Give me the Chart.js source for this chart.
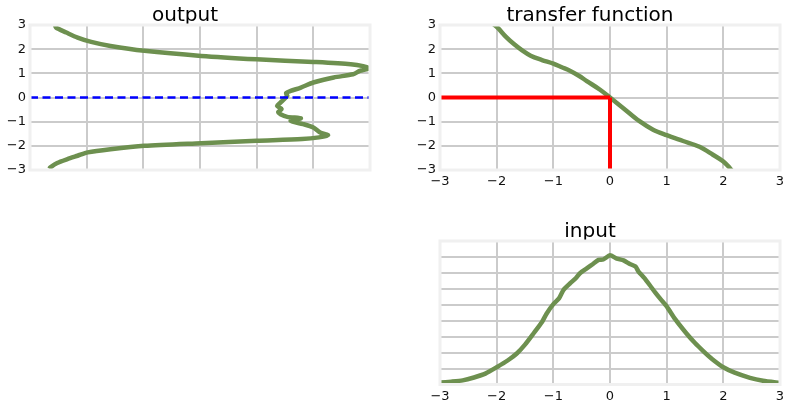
<!DOCTYPE html>
<html>
<head>
<meta charset="utf-8">
<script src="https://cdn.jsdelivr.net/npm/chart.js@4"></script>
<style>
  html, body { margin: 0; padding: 0; background: #fff; }
  body { width: 791px; height: 410px; position: relative; overflow: hidden; }
  .box { position: absolute; }
</style>
</head>
<body>
<div class="box" style="left:0;top:0;width:395px;height:195px"><canvas id="outputChart"></canvas></div>
<div class="box" style="left:400px;top:0;width:391px;height:195px"><canvas id="transferChart"></canvas></div>
<div class="box" style="left:400px;top:216px;width:391px;height:194px"><canvas id="inputChart"></canvas></div>
<script>
// output distribution (density on x, output value on y), traced top to bottom
const outY = [3.02, 2.89, 2.69, 2.48, 2.30, 2.13, 1.93, 1.72, 1.58, 1.47, 1.38, 1.30, 1.21, 1.10, 0.96, 0.83,
  0.62, 0.41, 0.27, 0.18, 0.07, -0.08, -0.21, -0.35, -0.48, -0.60, -0.69, -0.80, -0.86, -0.97, -1.10,
  -1.24, -1.45, -1.56, -1.65, -1.72, -1.79, -1.89, -2.00, -2.14, -2.27, -2.41, -2.55, -2.71, -2.89, -2.95];
const outDensity = [0.022, 0.023, 0.032, 0.042, 0.054, 0.071, 0.101, 0.151, 0.200, 0.250, 0.283, 0.294, 0.299, 0.291,
  0.285, 0.268, 0.250, 0.239, 0.230, 0.226, 0.227, 0.224, 0.221, 0.218, 0.222, 0.219, 0.221, 0.227, 0.239, 0.230, 0.241,
  0.250, 0.256, 0.263, 0.255, 0.240, 0.200, 0.151, 0.101, 0.071, 0.051, 0.042, 0.033, 0.024, 0.018, 0.017];
const zeroLineX = [0, 0.3];
const zeroLineY = [0, 0];

// transfer function
const tfX = [-2.05, -1.98, -1.84, -1.69, -1.55, -1.40, -1.2, -1.0, -0.85, -0.70, -0.55, -0.41, -0.175, 0,
  0.23, 0.52, 0.76, 1.0, 1.29, 1.58, 1.81, 2.0, 2.1, 2.16];
const tfY = [3.02, 2.88, 2.52, 2.2, 1.95, 1.73, 1.55, 1.40, 1.25, 1.1, 0.9, 0.68, 0.32, 0,
  -0.43, -0.98, -1.33, -1.56, -1.8, -2.04, -2.36, -2.65, -2.88, -3.05];
const redHX = [-3, 0];
const redHY = [0, 0];
const redVX = [0, 0];
const redVY = [-3, 0];

// input distribution
const inX = [-3.0, -2.8, -2.6, -2.4, -2.2, -2.0, -1.8, -1.64, -1.5, -1.35, -1.2, -1.12, -1.0, -0.9, -0.82, -0.7, -0.6,
  -0.53, -0.41, -0.3, -0.2, -0.12, 0.0, 0.12, 0.24, 0.35, 0.45, 0.5, 0.6, 0.7, 0.8, 0.9, 1.0, 1.15, 1.35, 1.5, 1.65,
  1.8, 2.0, 2.2, 2.47, 2.7, 3.0];
const inY = [0.006, 0.009, 0.013, 0.022, 0.034, 0.054, 0.076, 0.098, 0.125, 0.160, 0.196, 0.222, 0.252, 0.270, 0.297,
  0.318, 0.334, 0.349, 0.364, 0.378, 0.391, 0.392, 0.405, 0.395, 0.389, 0.378, 0.370, 0.355, 0.335, 0.312, 0.288, 0.266,
  0.245, 0.205, 0.160, 0.130, 0.104, 0.080, 0.054, 0.037, 0.021, 0.012, 0.005];

const pts = (xs, ys) => xs.map((x, i) => ({ x, y: ys[i] }));
const minus = v => String(v).replace('-', '\u2212');

Chart.defaults.font.family = 'DejaVu Sans';
Chart.defaults.color = '#111';
Chart.defaults.animation = false;

const GREEN = '#6d904f';
const GRID = '#cbcbcb';

// light frame round the plot area, like the matplotlib spines
const framePlugin = {
  id: 'frame',
  afterDatasetsDraw(chart) {
    const a = chart.chartArea;
    const ctx = chart.ctx;
    ctx.save();
    ctx.strokeStyle = '#f0f0f0';
    ctx.lineWidth = 3;
    ctx.strokeRect(a.left, a.top, a.right - a.left, a.bottom - a.top);
    ctx.restore();
  }
};

function axis(min, max, step, showLabels, fit) {
  return {
    type: 'linear',
    min, max,
    grid: { color: GRID, lineWidth: 2, drawTicks: false },
    border: { display: false },
    ticks: { display: showLabels, stepSize: step, padding: 4, font: { size: 13 }, callback: minus },
    afterFit: fit
  };
}

function title(text) {
  return { display: true, text, color: '#000', font: { size: 20, weight: 'normal', lineHeight: 0.8 }, padding: { top: 7.5, bottom: 1.5 } };
}

function line(data, color, width, extra) {
  return Object.assign({ data, borderColor: color, borderWidth: width, showLine: true, pointRadius: 0, clip: 0, tension: 0 }, extra);
}

new Chart(document.getElementById('outputChart'), {
  type: 'scatter',
  data: {
    datasets: [
      line(pts(zeroLineX, zeroLineY), '#0000ff', 2.5, { borderDash: [8, 4.5], order: 0 }),
      line(pts(outDensity, outY), GREEN, 4.5, { tension: 0.25, order: 1 })
    ]
  },
  options: {
    responsive: true, maintainAspectRatio: false,
    layout: { padding: { left: 0, right: 25, top: 0, bottom: 0 } },
    plugins: { legend: { display: false }, tooltip: { enabled: false }, title: title('output') },
    scales: {
      x: axis(0, 0.3, 0.05, false, s => { s.height = 25; }),
      y: axis(-3, 3, 1, true, s => { s.width = 30; })
    }
  },
  plugins: [framePlugin]
});

new Chart(document.getElementById('transferChart'), {
  type: 'scatter',
  data: {
    datasets: [
      line(pts(redHX, redHY), '#ff0000', 4, { order: 0 }),
      line(pts(redVX, redVY), '#ff0000', 4, { order: 0 }),
      line(pts(tfX, tfY), GREEN, 4.5, { cubicInterpolationMode: 'monotone', order: 1 })
    ]
  },
  options: {
    responsive: true, maintainAspectRatio: false,
    layout: { padding: { left: 0, right: 11, top: 0, bottom: 0 } },
    plugins: { legend: { display: false }, tooltip: { enabled: false }, title: title('transfer function') },
    scales: {
      x: axis(-3, 3, 1, true, s => { s.height = 25; }),
      y: axis(-3, 3, 1, true, s => { s.width = 40; })
    }
  },
  plugins: [framePlugin]
});

new Chart(document.getElementById('inputChart'), {
  type: 'scatter',
  data: {
    datasets: [
      line(pts(inX, inY), GREEN, 4.5, { tension: 0.2 })
    ]
  },
  options: {
    responsive: true, maintainAspectRatio: false,
    layout: { padding: { left: 0, right: 11, top: 0, bottom: 0 } },
    plugins: { legend: { display: false }, tooltip: { enabled: false }, title: title('input') },
    scales: {
      x: axis(-3, 3, 1, true, s => { s.height = 25.5; }),
      y: axis(0, 0.45, 0.05, false, s => { s.width = 40; })
    }
  },
  plugins: [framePlugin]
});
</script>
</body>
</html>
